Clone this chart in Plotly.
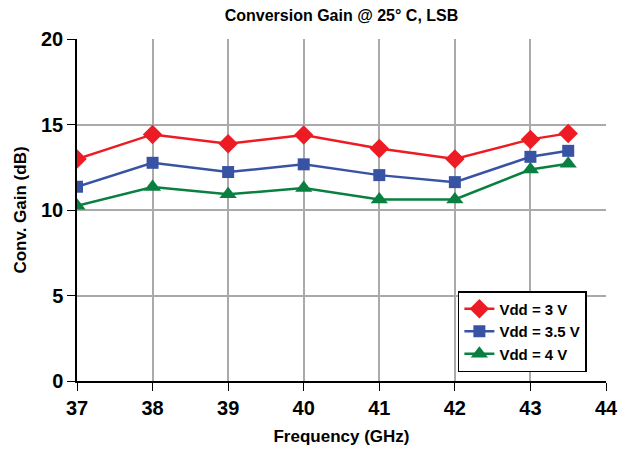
import plotly.graph_objects as go

freq = [37, 38, 39, 40, 41, 42, 43, 43.5]
gain_3v = [12.98, 14.42, 13.87, 14.38, 13.6, 12.98, 14.13, 14.48]
gain_35v = [11.36, 12.76, 12.22, 12.67, 12.04, 11.63, 13.11, 13.46]
gain_4v = [10.25, 11.35, 10.92, 11.28, 10.62, 10.62, 12.37, 12.7]

series = [
    ("Vdd = 3 V", gain_3v, "#ED1C24", "diamond", 15),
    ("Vdd = 3.5 V", gain_35v, "#3953A4", "square", 12),
    ("Vdd = 4 V", gain_4v, "#0A8040", "triangle-up", 15),
]

FONT = "Liberation Sans, Arial, sans-serif"

fig = go.Figure()
for name, vals, color, sym, sz in series:
    fig.add_trace(go.Scatter(
        x=freq, y=vals, name="<b>" + name + "</b>", mode="lines+markers",
        line=dict(color=color, width=2.5),
        marker=dict(symbol=sym, size=sz, color=color),
    ))

fig.update_layout(
    width=618, height=450,
    margin=dict(l=77, r=12, t=39, b=69, autoexpand=False),
    paper_bgcolor="white", plot_bgcolor="white",
    font=dict(family=FONT, color="black"),
    title=dict(text="<b>Conversion Gain @ 25° C, LSB</b>", x=0.5, xref="paper", xanchor="center",
               y=1 - 15 / 450, yref="container", yanchor="middle",
               font=dict(size=16, family=FONT), automargin=False),
    showlegend=True,
    legend=dict(x=0.72, y=0.263, xanchor="left", yanchor="top",
                bgcolor="white", bordercolor="black", borderwidth=1.5,
                font=dict(size=15, family=FONT), tracegroupgap=0,
                itemwidth=30),
)
fig.update_xaxes(
    range=[37, 44], dtick=1, tick0=37, automargin=False,
    showgrid=True, gridcolor="#aaaaaa", gridwidth=1.5,
    showline=True, linecolor="black", linewidth=1.5,
    ticks="outside", ticklen=8, tickcolor="black",
    tickfont=dict(size=20, family=FONT),
    title=dict(text="<b>Frequency (GHz)</b>", font=dict(size=17, family=FONT), standoff=12),
    tickprefix="<b>", ticksuffix="</b>", zeroline=False,
)
fig.update_yaxes(
    range=[0, 20], dtick=5, automargin=False,
    showgrid=True, gridcolor="#aaaaaa", gridwidth=1.5,
    showline=True, linecolor="black", linewidth=1.5,
    ticks="outside", ticklen=8, tickcolor="black",
    tickfont=dict(size=20, family=FONT),
    title=dict(text="<b>Conv. Gain (dB)</b>", font=dict(size=17, family=FONT), standoff=10),
    tickprefix="<b>", ticksuffix="</b>", zeroline=False,
)

fig.write_html("out.html", config={"displayModeBar": False},
               post_script="document.body.style.margin='0';document.body.style.overflow='hidden';")
